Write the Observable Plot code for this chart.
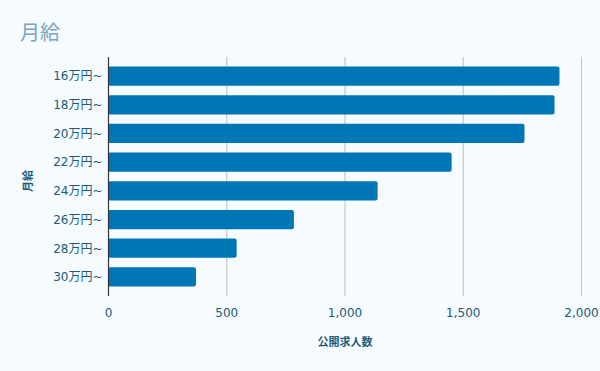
<!DOCTYPE html>
<html><head><meta charset="utf-8">
<script src="https://cdn.jsdelivr.net/npm/d3@7"></script>
<script src="https://cdn.jsdelivr.net/npm/@observablehq/plot@0.6"></script>
<style>
html,body{margin:0;padding:0;background:#f5fbff;}
#wrap{position:relative;width:600px;height:371px;font-family:"DejaVu Sans","Noto Sans CJK JP",sans-serif;}
#title{position:absolute;left:20px;top:20px;font-size:20px;color:#7ba3ba;line-height:24px;font-family:"Noto Sans CJK JP","DejaVu Sans",sans-serif;}
#chart{position:absolute;left:0;top:0;}
</style></head>
<body>
<div id="wrap"><div id="chart"></div><div id="title">月給</div></div>
<script>
const categories = ["16万円~","18万円~","20万円~","22万円~","24万円~","26万円~","28万円~","30万円~"];
const values = [1909, 1888, 1761, 1453, 1140, 786, 544, 372];
const xTicks = [0, 500, 1000, 1500, 2000];

const data = categories.map((c, i) => ({cat: c, v: values[i]}));
const textColor = "#1b5a78";

const plot = Plot.plot({
  width: 600,
  height: 371,
  marginTop: 57,
  marginBottom: 75,
  marginLeft: 108,
  marginRight: 19,
  style: {background: "transparent", fontFamily: "'DejaVu Sans','Noto Sans CJK JP',sans-serif", fontSize: "12px", color: textColor},
  x: {domain: [0, 2000], ticks: xTicks, grid: true, label: null, tickFormat: d3.format(",")},
  y: {domain: categories, padding: 0.33, round: false, label: null},
  marks: [
    Plot.gridX(xTicks, {stroke: "#c2c6ca", strokeOpacity: 1, strokeWidth: 1}),
    Plot.axisX({ticks: xTicks, tickSize: 0, tickPadding: 12, tickFormat: d3.format(","), label: null, fill: textColor, fontSize: 12}),
    Plot.axisY({tickSize: 0, tickPadding: 6, label: null, fill: textColor, fontSize: 12}),
    Plot.barX(data, {x: "v", y: "cat", fill: "#0176b6", rx: 2}),
    Plot.ruleX([0], {stroke: "#333", strokeWidth: 1.2}),
    Plot.text(["公開求人数"], {frameAnchor: "bottom", dy: 49, fill: textColor, fontSize: 11, fontWeight: "bold"}),
    Plot.text(["月給"], {frameAnchor: "left", dx: -80, dy: 15, rotate: -90, fill: textColor, fontSize: 11, fontWeight: "bold"})
  ]
});
document.getElementById("chart").appendChild(plot);
</script>
</body></html>
